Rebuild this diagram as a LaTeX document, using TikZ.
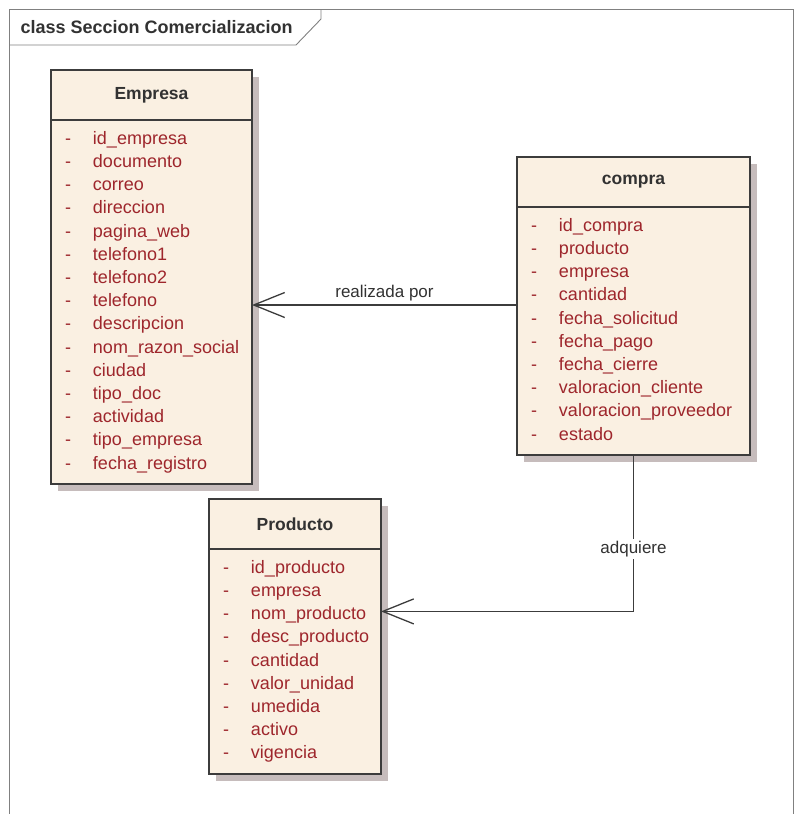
\documentclass[tikz,border=0pt]{standalone}
\usepackage{fontspec}
\setmainfont{Liberation Sans}
\usepackage{tikz}
\usetikzlibrary{arrows.meta,backgrounds}

\definecolor{fondclasse}{RGB}{250,240,226}
\definecolor{texteattr}{RGB}{158,38,44}
\definecolor{bordure}{RGB}{60,60,60}
\definecolor{ombre}{RGB}{198,188,188}
\definecolor{cadregris}{RGB}{128,128,128}
\definecolor{textegris}{RGB}{50,50,50}

\newcommand{\atributo}[1]{\strut\makebox[28pt][l]{-}#1}

\tikzset{
  classhead/.style={rectangle, draw=bordure, line width=1.4pt, outer sep=0pt, fill=fondclasse, anchor=north west,
    minimum height=50pt, text=textegris, font=\fontsize{17.5}{21}\selectfont\bfseries},
  classbody/.style={rectangle, draw=bordure, line width=1.4pt, outer sep=0pt, fill=fondclasse, anchor=north west,
    inner xsep=14pt, inner ysep=8pt, align=left, text=texteattr,
    font=\fontsize{18}{23.2}\selectfont},
  lien/.style={draw=bordure, line width=1.3pt, -{Straight Barb[length=31pt,width=25pt,line width=1.3pt]}},
  etiquette/.style={text=textegris, font=\fontsize{17}{20}\selectfont},
  cadre/.style={draw=cadregris, line width=0.9pt}
}

\begin{document}
\begin{tikzpicture}
	\begin{scope}[x=1pt,y=-1pt]
	\useasboundingbox (0,0) rectangle (795,814);
	% cadre du diagramme
	\draw[cadre] (9,814) -- (9,9) -- (793,9) -- (793,814);
	\draw[cadre] (9,45) -- (296,45) -- (321,19) -- (321,9);
	\node (titre) at (17,27) [anchor=west, text=textegris, font=\fontsize{18}{20}\selectfont\bfseries] {class Seccion Comercializacion};
	% classes et attributs
	\node (empresaHead) at (51,70) [classhead, minimum width=201pt] {Empresa};
	\node (empresaBody) at (empresaHead.south west) [classbody, text width=173pt] {%
		\atributo{id\_empresa}\\ \atributo{documento}\\ \atributo{correo}\\
		\atributo{direccion}\\ \atributo{pagina\_web}\\ \atributo{telefono1}\\
		\atributo{telefono2}\\ \atributo{telefono}\\ \atributo{descripcion}\\
		\atributo{nom\_razon\_social}\\ \atributo{ciudad}\\ \atributo{tipo\_doc}\\
		\atributo{actividad}\\ \atributo{tipo\_empresa}\\ \atributo{fecha\_registro}};
	\node (compraHead) at (517,157) [classhead, minimum width=233pt] {compra};
	\node (compraBody) at (compraHead.south west) [classbody, text width=205pt] {%
		\atributo{id\_compra}\\ \atributo{producto}\\ \atributo{empresa}\\
		\atributo{cantidad}\\ \atributo{fecha\_solicitud}\\ \atributo{fecha\_pago}\\
		\atributo{fecha\_cierre}\\ \atributo{valoracion\_cliente}\\
		\atributo{valoracion\_proveedor}\\ \atributo{estado}};
	\node (productoHead) at (209,499) [classhead, minimum width=172pt] {Producto};
	\node (productoBody) at (productoHead.south west) [classbody, text width=144pt] {%
		\atributo{id\_producto}\\ \atributo{empresa}\\ \atributo{nom\_producto}\\
		\atributo{desc\_producto}\\ \atributo{cantidad}\\ \atributo{valor\_unidad}\\
		\atributo{umedida}\\ \atributo{activo}\\ \atributo{vigencia}};
	% ombres
	\begin{scope}[on background layer]
	\foreach \c in {empresa,compra,producto}
		\fill[ombre] ([xshift=7pt,yshift=-7pt]\c Head.north west) rectangle ([xshift=7pt,yshift=-7pt]\c Body.south east);
	\end{scope}
	% associations
	\draw[lien] ([yshift=-3pt]compraBody.west |- empresaBody.east) -- ([yshift=-3pt]empresaBody.east)
		node[etiquette, midway, above, inner sep=3pt] {realizada por};
	\draw[lien] (compraBody.south) |- ([yshift=50pt]productoBody.east)
		node[etiquette, pos=0.3, fill=white, inner sep=2pt] {adquiere};
	\end{scope}
\end{tikzpicture}
\end{document}
